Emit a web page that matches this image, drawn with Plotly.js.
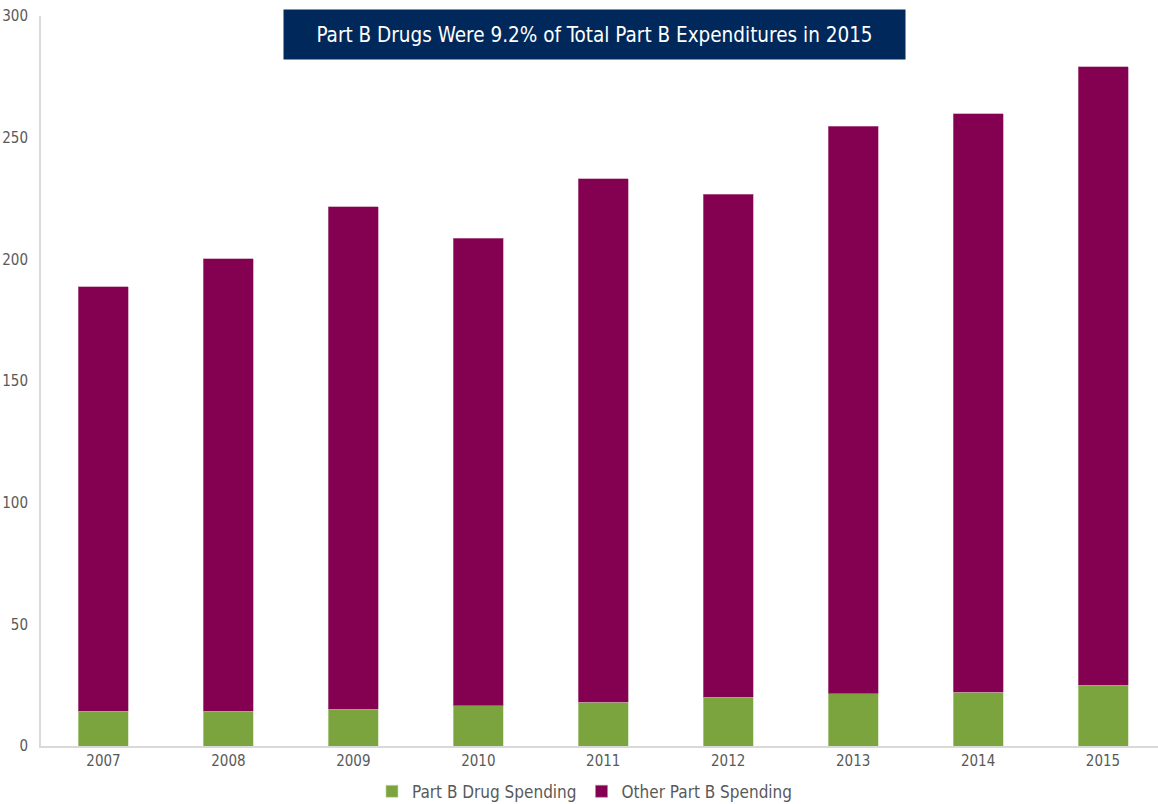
<!DOCTYPE html>
<html>
<head>
<meta charset="utf-8">
<script src="https://cdn.plot.ly/plotly-3.0.1.min.js"></script>
<style>
  html, body { margin: 0; padding: 0; background: #ffffff; }
  #chart { width: 1158px; height: 804px; }
</style>
</head>
<body>
<div id="chart"></div>
<script>
const years = ["2007", "2008", "2009", "2010", "2011", "2012", "2013", "2014", "2015"];
const drugSpending = [14.3, 14.3, 15.1, 16.5, 18.0, 20.0, 21.5, 22.1, 25.0];
const otherSpending = [174.4, 185.9, 206.5, 192.2, 215.1, 206.8, 233.2, 237.7, 254.1];
const yTicks = [0, 50, 100, 150, 200, 250, 300];
const chartTitle = "Part B Drugs Were 9.2% of Total Part B Expenditures in 2015";

const FONT = "'Liberation Sans Narrow', 'DejaVu Sans Condensed', 'Open Sans', sans-serif";

const traces = [
  {
    type: "bar",
    name: "Part B Drug Spending",
    x: years,
    y: drugSpending,
    marker: { color: "#7BA33E", line: { color: "#c5dba8", width: 0.6 } },
    hoverinfo: "x+y+name"
  },
  {
    type: "bar",
    name: "Other Part B Spending",
    x: years,
    y: otherSpending,
    marker: { color: "#840050", line: { color: "#c07fa6", width: 0.6 } },
    hoverinfo: "x+y+name"
  }
];

const layout = {
  width: 1158,
  height: 804,
  barmode: "stack",
  bargap: 0.6,
  paper_bgcolor: "#ffffff",
  plot_bgcolor: "#ffffff",
  margin: { l: 41, r: 0, t: 16, b: 58, pad: 0, autoexpand: false },
  font: { family: FONT, color: "#595959", size: 15 },
  showlegend: true,
  legend: {
    orientation: "h",
    x: 0.487,
    xanchor: "center",
    y: -0.038,
    yanchor: "top",
    font: { family: FONT, size: 17, color: "#595959" },
    traceorder: "normal",
    itemwidth: 30
  },
  xaxis: {
    type: "category",
    range: [-0.5, 8.44],
    showline: true,
    linecolor: "#d9d9d9",
    linewidth: 2,
    showgrid: false,
    zeroline: false,
    ticks: "",
    ticklabelstandoff: 0,
    automargin: false,
    tickfont: { family: FONT, size: 15, color: "#595959" },
    fixedrange: true
  },
  yaxis: {
    range: [0, 300],
    tickvals: yTicks,
    ticktext: yTicks.map(String),
    showline: true,
    linecolor: "#d9d9d9",
    linewidth: 2,
    showgrid: false,
    zeroline: false,
    ticks: "",
    ticklabelstandoff: 8,
    automargin: false,
    tickfont: { family: FONT, size: 15, color: "#595959" },
    fixedrange: true
  },
  annotations: [
    {
      xref: "paper",
      yref: "paper",
      x: (594.5 - 41) / 1117,
      y: (746 - 34.5) / 730,
      xanchor: "center",
      yanchor: "middle",
      text: chartTitle,
      showarrow: false,
      width: 619,
      height: 47,
      bgcolor: "#00285A",
      font: { family: FONT, size: 20.5, color: "#ffffff" },
      align: "center",
      valign: "middle"
    }
  ]
};

Plotly.newPlot("chart", traces, layout, { displayModeBar: false, staticPlot: true });
</script>
</body>
</html>
